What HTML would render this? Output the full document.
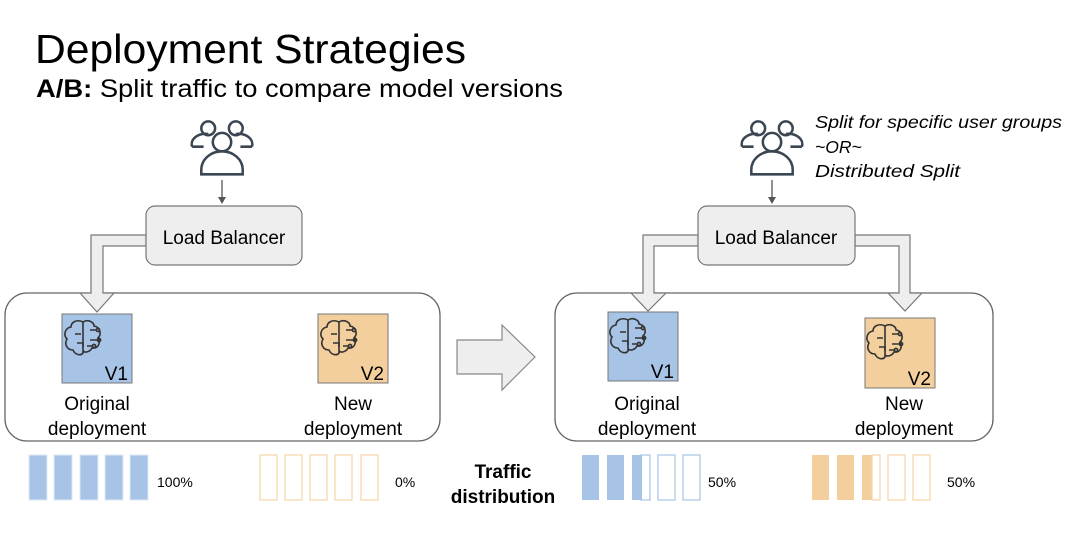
<!DOCTYPE html>
<html><head><meta charset="utf-8"><style>body{margin:0;background:#fff}svg{display:block}text{font-family:"Liberation Sans",sans-serif}</style></head><body>
<svg width="1090" height="543" viewBox="0 0 1090 543" xmlns="http://www.w3.org/2000/svg">
<defs>
<g id="users" fill="none" stroke="#3b4653" stroke-width="2.2">
<circle cx="-12" cy="-18" r="6"/><circle cx="12" cy="-18" r="6"/>
<path d="M-26,-2 a12,9 0 0 1 14,-11"/><path d="M26,-2 a12,9 0 0 0 -14,-11"/>
<path d="M-26,-2 h10 M26,-2 h-10"/>
<circle cx="0" cy="-6" r="8"/>
<path d="M-18,22 v-4 a18,16 0 0 1 36,0 v4 z"/>
</g>
<g id="brain" fill="none" stroke="#333" stroke-width="1.6">
<path d="M-4,-16 c-6,-3 -12,0 -12,5 c-6,1 -8,8 -4,12 c-3,5 0,11 6,11 c2,5 8,6 10,3 z"/>
<path d="M-4,-16 c5,-3 11,0 11,4 c6,1 8,8 4,12 c3,5 0,11 -6,10 c-2,4 -7,5 -9,3"/>
<path d="M-12,-4 h6 M-10,5 h6 v4 M3,-8 h7 M3,2 h8 M0,8 h6"/>
<circle cx="11" cy="-8" r="1.6"/><circle cx="12" cy="2" r="1.6"/><circle cx="7" cy="8" r="1.6"/>
</g>
</defs>
<text x="35" y="63" font-size="41" textLength="431" lengthAdjust="spacingAndGlyphs" fill="#000">Deployment Strategies</text>
<text x="36" y="97" font-size="25" textLength="527" lengthAdjust="spacingAndGlyphs" fill="#000"><tspan font-weight="bold">A/B:</tspan> Split traffic to compare model versions</text>

<!-- LEFT -->
<use href="#users" transform="translate(222,149) scale(1.15)"/>
<line x1="222" y1="180" x2="222" y2="198" stroke="#555" stroke-width="1.3"/><path d="M218,197 L226,197 L222,204 Z" fill="#555"/>
<rect x="5" y="293" width="435" height="148" rx="22" fill="none" stroke="#666" stroke-width="1.3"/>
<path d="M146,235 H91 V293 H80 L97,312 L114,293 H103 V246 H146 Z" fill="#eee" stroke="#777" stroke-width="1.2"/>
<rect x="146" y="206" width="156" height="59" rx="9" fill="#eeeeee" stroke="#777" stroke-width="1.2"/>
<text x="224" y="244" font-size="19" text-anchor="middle">Load Balancer</text>
<rect x="62" y="314" width="70" height="69" fill="#a7c4e6" stroke="#777" stroke-width="1"/>
<use href="#brain" x="87" y="338"/><text x="128" y="380" font-size="19" text-anchor="end">V1</text>
<rect x="318" y="314" width="70" height="69" fill="#f4cf9e" stroke="#777" stroke-width="1"/>
<use href="#brain" x="343" y="338"/><text x="384" y="380" font-size="19" text-anchor="end">V2</text>
<text x="97" y="410" font-size="19" text-anchor="middle">Original</text>
<text x="97" y="435" font-size="19" text-anchor="middle">deployment</text>
<text x="353" y="410" font-size="19" text-anchor="middle">New</text>
<text x="353" y="435" font-size="19" text-anchor="middle">deployment</text>
<g fill="#a7c4e6" stroke="#dde8f5" stroke-width="1">
<rect x="29" y="455" width="18" height="45"/><rect x="54" y="455" width="18" height="45"/><rect x="80" y="455" width="18" height="45"/><rect x="105" y="455" width="18" height="45"/><rect x="130" y="455" width="18" height="45"/></g>
<text x="157" y="487" font-size="14">100%</text>
<g fill="none" stroke="#f6d4a6" stroke-width="1.2">
<rect x="260" y="455" width="17" height="45"/><rect x="285" y="455" width="17" height="45"/><rect x="310" y="455" width="17" height="45"/><rect x="335" y="455" width="17" height="45"/><rect x="361" y="455" width="17" height="45"/></g>
<text x="395" y="487" font-size="14">0%</text>
<text x="503" y="478" font-size="19" font-weight="bold" text-anchor="middle">Traffic</text>
<text x="503" y="503" font-size="19" font-weight="bold" text-anchor="middle">distribution</text>

<!-- middle arrow -->
<path d="M457,340 H502 V325 L535,357 L502,390 V374 H457 Z" fill="#eee" stroke="#888" stroke-width="1.2"/>

<!-- RIGHT -->
<use href="#users" transform="translate(772,149) scale(1.15)"/>
<line x1="772" y1="180" x2="772" y2="198" stroke="#555" stroke-width="1.3"/><path d="M768,197 L776,197 L772,204 Z" fill="#555"/>
<text font-size="17.5" font-style="italic"><tspan x="815" y="128" textLength="247" lengthAdjust="spacingAndGlyphs">Split for specific user groups</tspan><tspan x="815" y="153">~OR~</tspan><tspan x="815" y="177" textLength="145" lengthAdjust="spacingAndGlyphs">Distributed Split</tspan></text>
<rect x="555" y="293" width="438" height="148" rx="22" fill="none" stroke="#666" stroke-width="1.3"/>
<path d="M698,235 H643 V293 H631 L648,311 L666,293 H654 V246 H698 Z" fill="#eee" stroke="#777" stroke-width="1.2"/>
<path d="M855,235 H910 V293 H922 L905,311 L888,293 H899 V246 H855 Z" fill="#eee" stroke="#777" stroke-width="1.2"/>
<rect x="698" y="206" width="157" height="59" rx="9" fill="#eeeeee" stroke="#777" stroke-width="1.2"/>
<text x="776" y="244" font-size="19" text-anchor="middle">Load Balancer</text>
<rect x="608" y="312" width="70" height="69" fill="#a7c4e6" stroke="#777" stroke-width="1"/>
<use href="#brain" x="632" y="336"/><text x="674" y="378" font-size="19" text-anchor="end">V1</text>
<rect x="865" y="318" width="70" height="70" fill="#f4cf9e" stroke="#777" stroke-width="1"/>
<use href="#brain" x="889" y="342"/><text x="931" y="385" font-size="19" text-anchor="end">V2</text>
<text x="647" y="410" font-size="19" text-anchor="middle">Original</text>
<text x="647" y="435" font-size="19" text-anchor="middle">deployment</text>
<text x="904" y="410" font-size="19" text-anchor="middle">New</text>
<text x="904" y="435" font-size="19" text-anchor="middle">deployment</text>
<g fill="#a7c4e6"><rect x="582" y="455" width="17" height="45"/><rect x="607" y="455" width="17" height="45"/><rect x="632" y="455" width="10" height="45"/></g>
<g fill="none" stroke="#a7c4e6" stroke-width="1.2"><rect x="641" y="455" width="9" height="45"/><rect x="658" y="455" width="17" height="45"/><rect x="683" y="455" width="17" height="45"/></g>
<text x="708" y="487" font-size="14">50%</text>
<g fill="#f4cf9e"><rect x="812" y="455" width="17" height="45"/><rect x="837" y="455" width="17" height="45"/><rect x="862" y="455" width="10" height="45"/></g>
<g fill="none" stroke="#f6d4a6" stroke-width="1.2"><rect x="872" y="455" width="8" height="45"/><rect x="888" y="455" width="17" height="45"/><rect x="913" y="455" width="17" height="45"/></g>
<text x="947" y="487" font-size="14">50%</text>
</svg>
</body></html>
